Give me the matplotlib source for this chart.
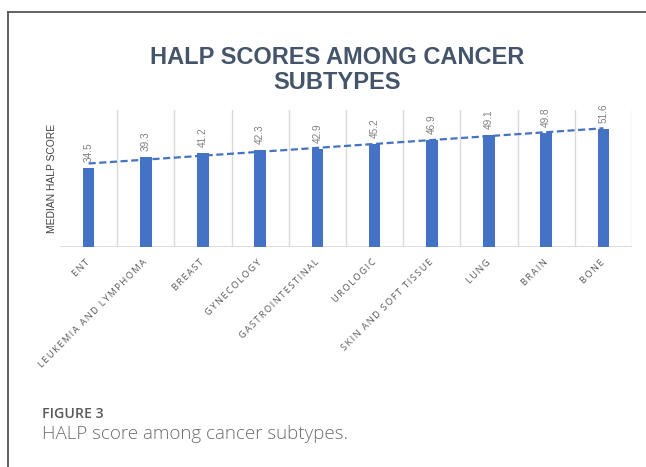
import numpy as np
import matplotlib
matplotlib.use("Agg")
import matplotlib.pyplot as plt
from matplotlib.lines import Line2D

categories = ["ENT", "LEUKEMIA AND LYMPHOMA", "BREAST", "GYNECOLOGY",
              "GASTROINTESTINAL", "UROLOGIC", "SKIN AND SOFT TISSUE",
              "LUNG", "BRAIN", "BONE"]
values = [34.5, 39.3, 41.2, 42.3, 42.9, 45.2, 46.9, 49.1, 49.8, 51.6]
value_labels = ["34.5", "39.3", "41.2", "42.3", "42.9", "45.2", "46.9", "49.1", "49.8", "51.6"]
title = "HALP SCORES AMONG CANCER\nSUBTYPES"
ylabel = "MEDIAN HALP SCORE"
caption_head = "FIGURE 3"
caption_text = "HALP score among cancer subtypes."

W, H = 646, 467
fig = plt.figure(figsize=(W / 100, H / 100), dpi=100)
fig.patch.set_facecolor("white")

# frame lines (top and left)
fig.add_artist(Line2D([8 / W, 8 / W], [0, 1 - 12 / H], transform=fig.transFigure,
                      color="#555555", lw=1.3))
fig.add_artist(Line2D([8 / W, 1], [1 - 12 / H, 1 - 12 / H], transform=fig.transFigure,
                      color="#555555", lw=1.3))

ax = fig.add_axes([60 / W, (H - 247) / H, 572 / W, 137 / H])
x = np.arange(len(categories))
bar_color = "#4472C4"
ax.bar(x, values, width=0.2, color=bar_color, zorder=3)

# linear trendline
coef = np.polyfit(x, values, 1)
ax.plot(x, np.polyval(coef, x), linestyle=(0, (3.2, 1.6)), color=bar_color, lw=1.6, zorder=4)

for xi, v, lab in zip(x, values, value_labels):
    ax.annotate(lab, (xi, v), xytext=(0, 4.5), textcoords="offset points",
                rotation=90, ha="center", va="bottom", fontsize=7.2,
                color="#808080", family=["Liberation Sans", "DejaVu Sans"])

ax.set_xlim(-0.5, len(categories) - 0.5)
ax.set_ylim(0, 60)
for g in np.arange(0.5, len(categories), 1.0):
    ax.axvline(g, color="#d9d9d9", lw=1.0, zorder=1)
ax.axhline(0, color="#d9d9d9", lw=1.2, zorder=2)
for s in ax.spines.values():
    s.set_visible(False)
ax.set_yticks([])

THIN = "\u2009"
def track(s):
    return "  ".join(THIN.join(list(w)) for w in s.split(" "))

ax.set_xticks(x)
ax.set_xticklabels([track(c) for c in categories], rotation=45, ha="right",
                   va="center", rotation_mode="anchor", fontsize=6.7, color="#595959",
                   family=["Open Sans", "DejaVu Sans"])
ax.tick_params(axis="x", length=0, pad=10)

ax.set_ylabel(ylabel, fontsize=7.4, color="#404040", family=["Liberation Sans", "DejaVu Sans"],
              labelpad=2)

fig.text(337 / W, 1 - 46 / H, title, ha="center", va="top", fontsize=17,
         fontweight="bold", color="#44546A", family=["Liberation Sans", "DejaVu Sans"],
         linespacing=1.1)

fig.text(42 / W, 1 - 418 / H, caption_head, ha="left", va="baseline", fontsize=10.2,
         fontweight="semibold", color="#595959", family=["Open Sans", "DejaVu Sans"])
fig.text(42 / W, 1 - 439 / H, caption_text, ha="left", va="baseline", fontsize=13.5,
         fontweight="light", color="#6e6e6e", family=["Open Sans", "DejaVu Sans"])

fig.savefig("out.png", dpi=100, facecolor="white")
